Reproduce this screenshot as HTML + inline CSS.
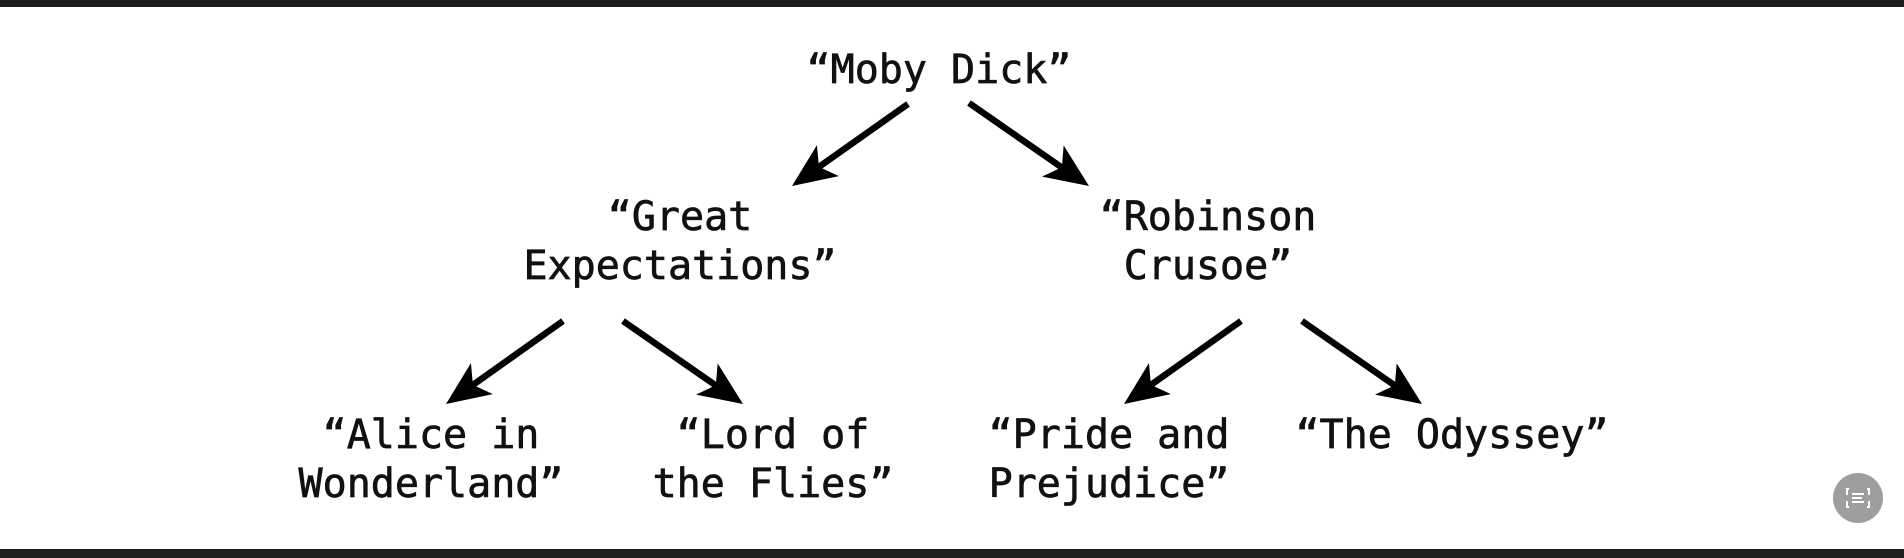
<!DOCTYPE html>
<html><head><meta charset="utf-8"><style>
html,body{margin:0;padding:0;background:#fff;}
body{width:1904px;height:558px;overflow:hidden;position:relative;}
svg{position:absolute;left:0;top:0;}
text{font-family:"DejaVu Sans Mono","Liberation Mono",monospace;font-size:40px;fill:#111;stroke:#111;stroke-width:0.7px;text-anchor:middle;}
</style></head><body>
<svg width="1904" height="558" viewBox="0 0 1904 558">
<rect x="0" y="0" width="1904" height="7" fill="#1e1e1e"/>
<rect x="0" y="549" width="1904" height="9" fill="#1e1e1e"/>
<g stroke="#000" stroke-width="6.5" fill="none">
<line x1="908" y1="104" x2="816" y2="169"/>
<line x1="969" y1="103" x2="1064" y2="169"/>
<line x1="563" y1="321" x2="470" y2="387"/>
<line x1="623" y1="321" x2="718" y2="387"/>
<line x1="1241" y1="321" x2="1148" y2="387"/>
<line x1="1302" y1="321" x2="1397" y2="387"/>
</g>
<g fill="#000">
<path transform="translate(792,186) rotate(144.7)" d="M0,0 L-44,-19 L-33,0 L-44,19 z"/>
<path transform="translate(1089,186) rotate(34.7)" d="M0,0 L-44,-19 L-33,0 L-44,19 z"/>
<path transform="translate(446,404) rotate(144.7)" d="M0,0 L-44,-19 L-33,0 L-44,19 z"/>
<path transform="translate(743,404) rotate(34.7)" d="M0,0 L-44,-19 L-33,0 L-44,19 z"/>
<path transform="translate(1124,404) rotate(144.7)" d="M0,0 L-44,-19 L-33,0 L-44,19 z"/>
<path transform="translate(1422,404) rotate(34.7)" d="M0,0 L-44,-19 L-33,0 L-44,19 z"/>
</g>
<text x="939" y="83">“Moby Dick”</text>
<text x="680" y="230">“Great</text>
<text x="680" y="279">Expectations”</text>
<text x="1208" y="230">“Robinson</text>
<text x="1208" y="279">Crusoe”</text>
<text x="431" y="448">“Alice in</text>
<text x="431" y="497">Wonderland”</text>
<text x="773" y="448">“Lord of</text>
<text x="773" y="497">the Flies”</text>
<text x="1109" y="448">“Pride and</text>
<text x="1109" y="497">Prejudice”</text>
<text x="1452" y="448">“The Odyssey”</text>
<circle cx="1858" cy="498" r="25" fill="#9e9e9e"/>
<g stroke="#fff" stroke-width="2" fill="none">
<path d="M1849,489 h-2 v6 M1849,507 h-2 v-6 M1867,489 h2 v6 M1867,507 h2 v-6"/>
<line x1="1852" y1="494" x2="1864" y2="494"/>
<line x1="1852" y1="498" x2="1862" y2="498"/>
<line x1="1852" y1="502" x2="1864" y2="502"/>
</g>
</svg>
</body></html>
